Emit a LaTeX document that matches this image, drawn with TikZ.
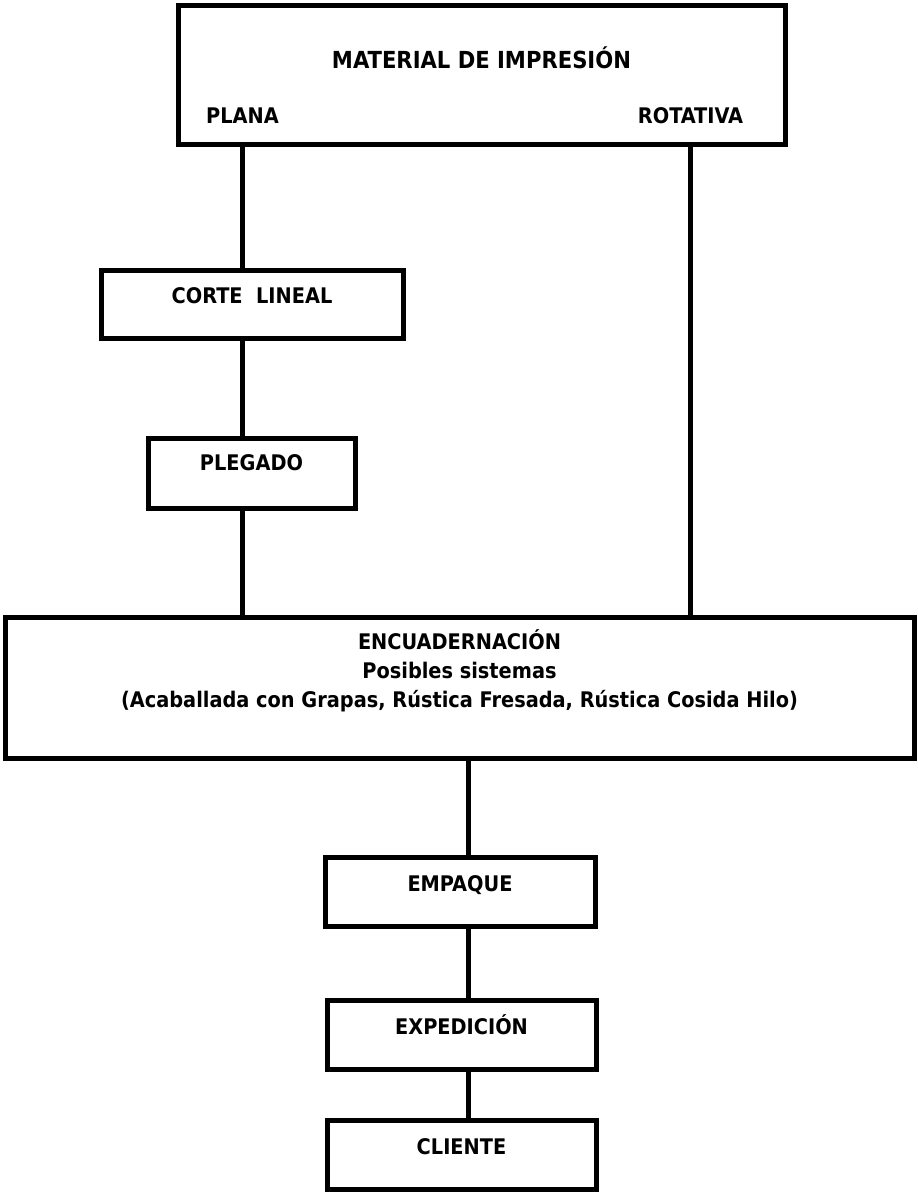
\documentclass[tikz,border=0pt]{standalone}
\usepackage{fontspec}
\setmainfont{DejaVu Sans Condensed}[BoldFont={DejaVu Sans Condensed Bold}]
\usetikzlibrary{positioning}

\tikzset{
  caja/.style={draw, rectangle, line width=5pt, align=center, inner sep=0pt,
    text height=16pt, text depth=17pt},
  etiqueta/.style={inner sep=0pt},
  linea/.style={line width=5pt}
}

\begin{document}
\begin{tikzpicture}[x=1pt, y=-1pt, font=\fontsize{21.5}{29}\selectfont\bfseries]
   \useasboundingbox (0,0) rectangle (918,1194);
   % cajas
   \node[caja, minimum width=607pt, minimum height=139pt, text depth=28pt,
         font=\fontsize{23.5}{29}\selectfont\bfseries] (material) at (481.5,74.5) {MATERIAL DE IMPRESIÓN};
   \node[etiqueta] (plana) at (242.5,116) {PLANA};
   \node[etiqueta] (rotativa) at (690.5,116) {ROTATIVA};
   \node[caja, minimum width=302pt, minimum height=68pt] (corte) at (252,304) {CORTE\ \ LINEAL};
   \node[caja, minimum width=207pt, minimum height=70pt, text depth=20.5pt] (plegado) at (251.5,473) {PLEGADO};
   \node[caja, minimum width=909pt, minimum height=141pt, text height=74.5pt, text depth=34pt] (encuadernacion) at (459.5,687.5)
      {ENCUADERNACIÓN\\Posibles sistemas\\(Acaballada con Grapas, Rústica Fresada, Rústica Cosida Hilo)};
   \node[caja, minimum width=270pt, minimum height=69pt] (empaque) at (460,891.5) {EMPAQUE};
   \node[caja, minimum width=269pt, minimum height=69pt] (expedicion) at (461.5,1034.5) {EXPEDICIÓN};
   \node[caja, minimum width=269pt, minimum height=69pt] (cliente) at (461.5,1154.5) {CLIENTE};
   \coordinate (eje) at (468,0);
   % uniones
   \draw[linea] (material.south -| plana) -- (corte.north -| plana);
   \draw[linea] (corte.south -| plana) -- (plegado.north -| plana);
   \draw[linea] (plegado.south -| plana) -- (encuadernacion.north -| plana);
   \draw[linea] (material.south -| rotativa) -- (encuadernacion.north -| rotativa);
   \draw[linea] (encuadernacion.south -| eje) -- (empaque.north -| eje);
   \draw[linea] (empaque.south -| eje) -- (expedicion.north -| eje);
   \draw[linea] (expedicion.south -| eje) -- (cliente.north -| eje);
\end{tikzpicture}
\end{document}
